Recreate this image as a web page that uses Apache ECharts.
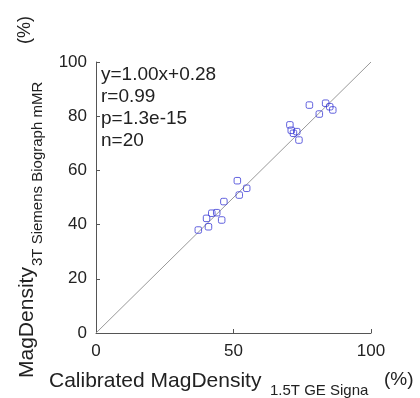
<!DOCTYPE html>
<html><head><meta charset="utf-8">
<script src="https://cdn.jsdelivr.net/npm/echarts@6/dist/echarts.min.js"></script>
<style>html,body{margin:0;padding:0;background:#fff}#c{width:420px;height:398px}</style>
</head><body><div id="c"></div>
<script>
// Data
var xValues = [77.6, 83.5, 85.0, 86.1, 81.2, 70.5, 71.8, 73.0, 73.8, 71.0,
               51.4, 54.8, 52.1, 46.5,
               43.9, 42.1, 45.7, 40.2, 40.9, 37.2];
var yValues = [84.1, 84.8, 83.5, 82.3, 80.8, 76.8, 73.7, 74.3, 71.2, 74.8,
               56.2, 53.4, 50.9, 48.5,
               44.4, 44.2, 41.7, 42.3, 39.2, 38.0];
var identityX = [0, 100];
var identityY = [0, 100];
var statsLines = ['y=1.00x+0.28', 'r=0.99', 'p=1.3e-15', 'n=20'];
var xTicks = [0, 50, 100];
var yTicks = [0, 20, 40, 60, 80, 100];

var FONT = 'Liberation Sans, Helvetica, Arial, sans-serif';
var chart = echarts.init(document.getElementById('c'));
var pts = xValues.map(function (x, i) { return [x, yValues[i]]; });
var idLine = identityX.map(function (x, i) { return [x, identityY[i]]; });

chart.setOption({
  animation: false,
  grid: { left: 96, right: 49, top: 62, bottom: 65 },
  xAxis: {
    type: 'value', min: xTicks[0], max: xTicks[xTicks.length - 1], interval: 50,
    axisLine: { lineStyle: { color: '#555', width: 1 } },
    axisTick: { inside: true, length: 4, lineStyle: { color: '#555' } },
    axisLabel: { color: '#222', fontSize: 17, fontFamily: FONT, margin: 10 },
    splitLine: { show: false }
  },
  yAxis: {
    type: 'value', min: yTicks[0], max: yTicks[yTicks.length - 1], interval: 20,
    axisLine: { show: true, lineStyle: { color: '#555', width: 1 } },
    axisTick: { show: true, inside: true, length: 4, lineStyle: { color: '#555' } },
    axisLabel: { color: '#222', fontSize: 17, fontFamily: FONT, margin: 9 },
    splitLine: { show: false }
  },
  series: [
    {
      type: 'line', data: idLine, symbol: 'none',
      lineStyle: { color: '#999', width: 1 }, z: 1
    },
    {
      type: 'scatter', data: pts, symbol: 'roundRect', symbolSize: 6.5,
      itemStyle: { color: 'rgba(255,255,255,0)', borderColor: '#3b3bd6', borderWidth: 1 }, z: 2
    }
  ],
  graphic: [
    {
      type: 'text', left: 101, top: 64,
      style: { text: statsLines.join('\n'), fontSize: 19, lineHeight: 22, fontFamily: FONT, fill: '#222' }
    },
    { type: 'text', x: 49, y: 381, style: { text: 'Calibrated MagDensity', fontSize: 21, fontFamily: FONT, fill: '#222', verticalAlign: 'middle' } },
    { type: 'text', x: 270, y: 391, style: { text: '1.5T GE Signa', fontSize: 15, fontFamily: FONT, fill: '#222', verticalAlign: 'middle' } },
    { type: 'text', x: 384, y: 380, style: { text: '(%)', fontSize: 19, fontFamily: FONT, fill: '#222', verticalAlign: 'middle' } },
    { type: 'text', x: 27, y: 378, rotation: Math.PI / 2, style: { text: 'MagDensity', fontSize: 21, fontFamily: FONT, fill: '#222', verticalAlign: 'middle' } },
    { type: 'text', x: 38, y: 266, rotation: Math.PI / 2, style: { text: '3T Siemens Biograph mMR', fontSize: 15, fontFamily: FONT, fill: '#222', verticalAlign: 'middle' } },
    { type: 'text', x: 25, y: 44, rotation: Math.PI / 2, style: { text: '(%)', fontSize: 18, fontFamily: FONT, fill: '#222', verticalAlign: 'middle' } }
  ]
});
</script></body></html>
